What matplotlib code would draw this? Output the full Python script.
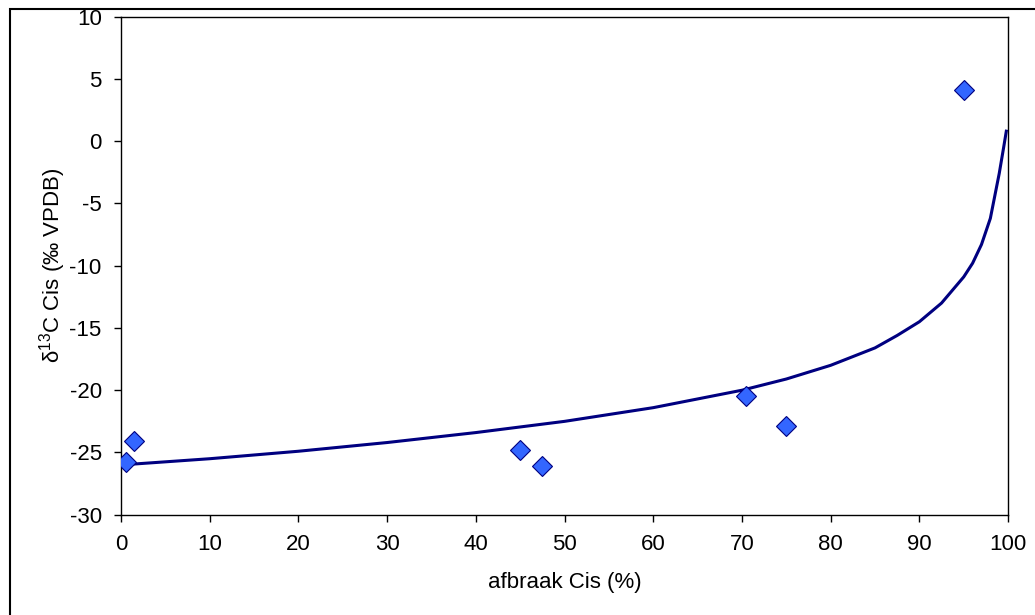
import matplotlib
matplotlib.use('Agg')
import matplotlib.pyplot as plt
from matplotlib.patches import Rectangle

plt.rcParams['font.family'] = ['Liberation Sans', 'DejaVu Sans']
plt.rcParams['mathtext.default'] = 'regular'
plt.rcParams['axes.unicode_minus'] = False

# meetpunten
afbraak = [0.5, 1.5, 45, 47.5, 70.5, 75, 95]
delta13c = [-25.8, -24.1, -24.8, -26.1, -20.5, -22.9, 4.1]

curve_x = [0, 10, 20, 30, 40, 50, 60, 70, 75, 80, 85, 87.5, 90, 92.5, 95, 96, 97, 98, 99, 99.5, 99.8]
curve_y = [-26.0, -25.5, -24.9, -24.2, -23.4, -22.5, -21.4, -20.0, -19.1, -18.0, -16.6, -15.6, -14.5, -13.0, -10.9, -9.8, -8.3, -6.2, -2.6, -0.5, 0.8]

fig = plt.figure(figsize=(10.35, 6.15), dpi=100)
ax = fig.add_axes([0.117, 0.163, 0.857, 0.81])

ax.plot(curve_x, curve_y, color='#000080', lw=2.2, zorder=2)
ax.plot(afbraak, delta13c, linestyle='none', marker='D', markersize=10,
        markerfacecolor='#3366FF', markeredgecolor='#000080', markeredgewidth=0.8, zorder=3)

ax.set_xlim(0, 100)
ax.set_ylim(-30, 10)
ax.set_xticks(range(0, 101, 10))
ax.set_yticks(range(-30, 11, 5))
ax.tick_params(axis='both', labelsize=16, direction='out', length=5, width=1)
ax.tick_params(axis='x', pad=9)
ax.tick_params(axis='y', pad=9)
ax.set_xlabel('afbraak Cis (%)', fontsize=16, labelpad=12)
ax.set_ylabel('δ$^{13}$C Cis (‰ VPDB)', fontsize=16, labelpad=1)
for s in ax.spines.values():
    s.set_linewidth(1)
    s.set_color('black')

# kader rond de grafiek
fig.add_artist(Rectangle((10 / 1035, -0.1), 1.2, 1.085, transform=fig.transFigure,
                         fill=False, edgecolor='black', lw=1.5, clip_on=False))

plt.savefig('out.png', dpi=100)
